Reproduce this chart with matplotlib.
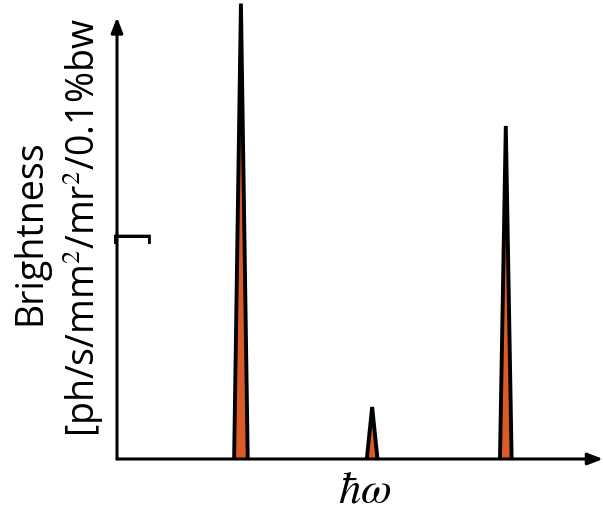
import numpy as np
import matplotlib.pyplot as plt

plt.rcParams['mathtext.fontset'] = 'stix'

# Data (arbitrary units)
peak_centers = [2.55, 5.25, 8.0]
peak_heights = [9.9, 1.13, 7.24]
peak_halfwidths = [0.14, 0.11, 0.12]

fig = plt.figure(figsize=(6.03, 5.10), dpi=100)
ax = fig.add_axes([117/603, 50/510, 486/603, 460/510])
ax.set_xlim(0, 10)
ax.set_ylim(0, 10)
ax.axis('off')

# Peaks as narrow triangles
for c, h, w in zip(peak_centers, peak_heights, peak_halfwidths):
    xs = [c - w, c, c + w]
    ys = [0, h, 0]
    ax.fill(xs, ys, color='#dc5a26', zorder=2)
    ax.plot(xs, ys, color='black', lw=2.8, zorder=3, solid_joinstyle='miter')

# Axes with arrows
ax.annotate('', xy=(1.0, 0), xytext=(0, 0), xycoords='axes fraction',
            arrowprops=dict(arrowstyle='-|>,head_length=0.9,head_width=0.35',
                            color='black', lw=2.2, shrinkA=0, shrinkB=0))
ax.annotate('', xy=(0, 0.96), xytext=(0, 0), xycoords='axes fraction',
            arrowprops=dict(arrowstyle='-|>,head_length=0.9,head_width=0.35',
                            color='black', lw=2.2, shrinkA=0, shrinkB=0))

# Labels
fig.text(30/603, 1 - 232/510, 'Brightness', rotation=90, fontsize=27,
         family='Open Sans', ha='center', va='center')
fig.text(83/603, 1 - 228/510, '[ph/s/mm$^2$/mr$^2$/0.1%bw', rotation=90, fontsize=27,
         family='Open Sans', ha='center', va='center')
fig.text(132/603, 1 - 236/510, ']', rotation=90, fontsize=30,
         family='Open Sans', ha='center', va='center')
fig.text(365/603, 1 - 490/510, r'$\hbar\omega$', fontsize=32,
         ha='center', va='center')

fig.savefig('out.png', dpi=100)
